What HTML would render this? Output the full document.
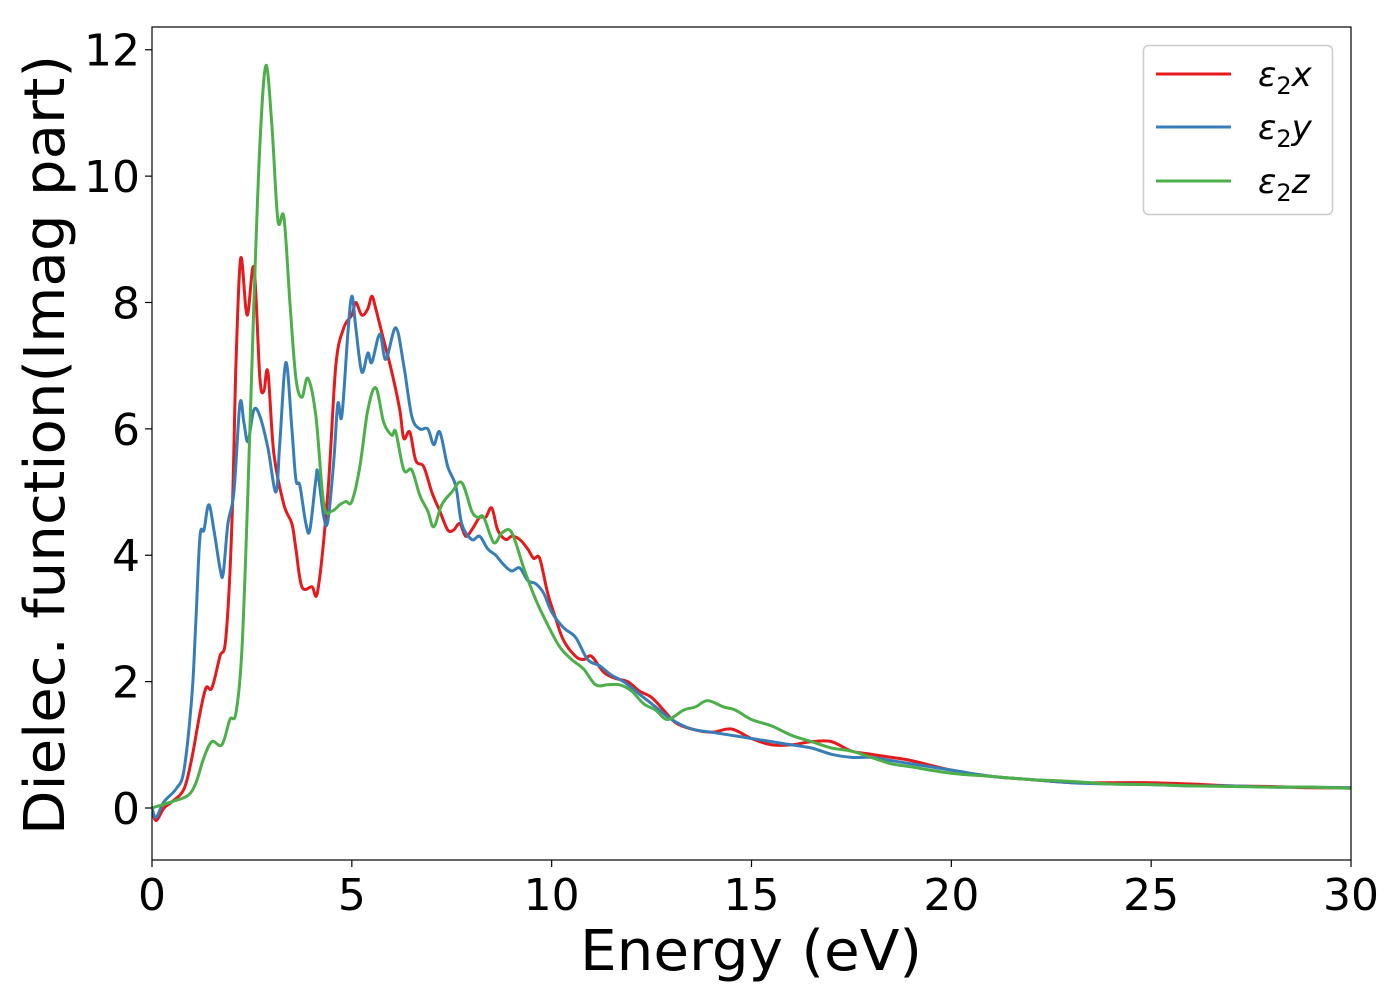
<!DOCTYPE html>
<html><head><meta charset="utf-8"><style>
html,body{margin:0;padding:0;background:#fff;}
svg{display:block;font-family:"DejaVu Sans","Liberation Sans",sans-serif;}
</style></head><body>
<svg id="chart" width="1400" height="1000" viewBox="0 0 1400 1000" xmlns="http://www.w3.org/2000/svg">
<rect width="1400" height="1000" fill="#fff"/>
<g id="series"></g>
<g id="axes"></g>
<g>
<rect x="1143.5" y="45.5" width="189" height="169" rx="5" fill="#fff" fill-opacity="0.8" stroke="#ccc" stroke-width="1.5"/>
<line x1="1156" x2="1231" y1="74" y2="74" stroke="#e41a1c" stroke-width="3"/>
<line x1="1156" x2="1231" y1="127" y2="127" stroke="#377eb8" stroke-width="3"/>
<line x1="1156" x2="1231" y1="181" y2="181" stroke="#4daf4a" stroke-width="3"/>
<text x="1258" y="86" font-size="34" font-style="italic">ε<tspan font-size="24" dy="8" font-style="normal">2</tspan><tspan dy="-8">x</tspan></text>
<text x="1258" y="139" font-size="34" font-style="italic">ε<tspan font-size="24" dy="8" font-style="normal">2</tspan><tspan dy="-8">y</tspan></text>
<text x="1258" y="193" font-size="34" font-style="italic">ε<tspan font-size="24" dy="8" font-style="normal">2</tspan><tspan dy="-8">z</tspan></text>
</g>
<text x="751" y="970" font-size="56" text-anchor="middle" textLength="342" lengthAdjust="spacingAndGlyphs">Energy (eV)</text>
<text transform="translate(64,445) rotate(-90)" font-size="56" text-anchor="middle" textLength="780" lengthAdjust="spacingAndGlyphs">Dielec. function(Imag part)</text>
</svg>
<script>
const xTicks=[0,5,10,15,20,25,30];
const yTicks=[0,2,4,6,8,10,12];
const xE=[0,0.1,0.3,0.5,0.8,1.0,1.2,1.35,1.5,1.7,1.85,2.0,2.1,2.22,2.38,2.55,2.7,2.8,2.9,3.05,3.3,3.5,3.6,3.75,4.0,4.15,4.4,4.6,4.8,5.0,5.1,5.25,5.4,5.5,5.6,5.8,6.0,6.2,6.3,6.45,6.6,6.8,7.0,7.2,7.4,7.55,7.7,7.85,8.0,8.2,8.35,8.5,8.65,8.85,9.0,9.2,9.4,9.55,9.7,9.9,10.1,10.3,10.6,10.8,11.0,11.3,11.6,11.9,12.2,12.5,12.8,13.1,13.5,14.0,14.5,15.0,15.5,16.0,16.5,17.0,17.5,18.0,18.5,19.0,20,21,22,23,24,25,26,27,28,29,30];
const xV=[0,-0.2,0,0.1,0.3,0.8,1.5,1.9,1.9,2.4,2.7,4.5,7.0,8.7,7.8,8.55,6.8,6.6,6.9,5.6,4.8,4.5,4.1,3.5,3.5,3.45,5.0,7.0,7.6,7.8,8.0,7.8,7.9,8.1,7.9,7.4,6.9,6.3,5.85,5.95,5.5,5.4,5.0,4.7,4.4,4.4,4.5,4.3,4.4,4.6,4.6,4.75,4.4,4.25,4.3,4.25,4.1,3.95,3.95,3.4,3.0,2.65,2.4,2.35,2.4,2.15,2.05,2.0,1.85,1.75,1.55,1.35,1.25,1.2,1.25,1.1,1.0,1.0,1.05,1.05,0.9,0.85,0.8,0.75,0.6,0.5,0.45,0.4,0.4,0.4,0.38,0.35,0.34,0.32,0.32];
const yE=[0,0.1,0.3,0.6,0.8,1.0,1.1,1.2,1.3,1.42,1.55,1.7,1.78,1.9,2.05,2.2,2.3,2.4,2.55,2.7,2.9,3.1,3.2,3.35,3.5,3.6,3.7,3.85,3.95,4.1,4.15,4.3,4.4,4.55,4.65,4.75,4.9,5.0,5.1,5.25,5.4,5.5,5.7,5.85,6.1,6.3,6.5,6.7,6.9,7.05,7.2,7.4,7.6,7.75,8.0,8.2,8.4,8.6,8.8,9.0,9.2,9.4,9.6,9.8,10.0,10.3,10.6,10.9,11.2,11.5,11.8,12.2,12.6,13.0,13.5,14.0,14.5,15,15.5,16,16.5,17,17.5,18,18.5,19,20,21,22,23,24,25,26,27,28,29,30];
const yV=[0,-0.15,0.1,0.3,0.6,1.8,3.0,4.3,4.4,4.8,4.4,3.8,3.7,4.5,5.0,6.4,6.1,5.8,6.3,6.2,5.7,5.0,5.8,7.05,6.0,5.2,5.1,4.5,4.4,5.2,5.3,4.6,4.55,5.5,6.4,6.2,7.5,8.1,7.6,6.9,7.2,7.05,7.5,7.1,7.6,7.0,6.2,6.0,6.0,5.75,5.95,5.4,5.1,4.5,4.25,4.3,4.1,4.0,3.85,3.75,3.8,3.6,3.55,3.4,3.1,2.85,2.7,2.35,2.25,2.1,2.0,1.8,1.6,1.4,1.25,1.2,1.15,1.1,1.05,1.0,0.95,0.85,0.8,0.8,0.75,0.7,0.6,0.5,0.45,0.4,0.38,0.37,0.35,0.35,0.33,0.33,0.32];
const zE=[0,0.5,0.9,1.1,1.3,1.5,1.75,1.95,2.1,2.25,2.4,2.55,2.7,2.85,3.0,3.15,3.3,3.45,3.6,3.75,3.9,4.1,4.3,4.5,4.7,4.85,5.0,5.2,5.4,5.6,5.8,6.0,6.1,6.3,6.5,6.7,6.9,7.05,7.25,7.5,7.75,8.0,8.15,8.3,8.55,8.75,8.95,9.1,9.3,9.6,9.9,10.2,10.5,10.8,11.1,11.4,11.7,12.0,12.3,12.6,12.9,13.3,13.6,13.9,14.3,14.6,15.0,15.5,16,16.5,17,17.5,18,18.5,19,20,21,22,23,24,25,26,27,28,29,30];
const zV=[0,0.1,0.2,0.4,0.8,1.05,1.0,1.4,1.5,2.5,5.0,8.0,10.5,11.75,10.8,9.3,9.35,8.0,6.8,6.5,6.8,6.2,4.8,4.7,4.8,4.85,4.85,5.4,6.3,6.65,6.1,5.9,5.95,5.35,5.35,4.95,4.7,4.45,4.8,5.0,5.15,4.7,4.6,4.6,4.2,4.35,4.4,4.2,3.8,3.3,2.9,2.55,2.35,2.2,1.95,1.95,1.95,1.85,1.65,1.55,1.4,1.55,1.6,1.7,1.6,1.55,1.4,1.3,1.15,1.05,0.95,0.9,0.8,0.7,0.65,0.55,0.5,0.45,0.42,0.38,0.37,0.35,0.34,0.33,0.33,0.31];

const L=152,R=1351,T=27,B=860,xMin=0,xMax=30,yMin=-0.823,yMax=12.36;
function sx(v){return L+(v-xMin)/(xMax-xMin)*(R-L);}
function sy(v){return B-(v-yMin)/(yMax-yMin)*(B-T);}
const NS='http://www.w3.org/2000/svg';
function pathFor(E,V){
  const p=E.map((e,i)=>[sx(e),sy(V[i])]);
  let d='M'+p[0][0].toFixed(1)+','+p[0][1].toFixed(1);
  for(let i=0;i<p.length-1;i++){
    const p0=p[Math.max(0,i-1)],p1=p[i],p2=p[i+1],p3=p[Math.min(p.length-1,i+2)];
    const c1=[p1[0]+(p2[0]-p0[0])/6,p1[1]+(p2[1]-p0[1])/6];
    const c2=[p2[0]-(p3[0]-p1[0])/6,p2[1]-(p3[1]-p1[1])/6];
    d+='C'+c1[0].toFixed(1)+','+c1[1].toFixed(1)+' '+c2[0].toFixed(1)+','+c2[1].toFixed(1)+' '+p2[0].toFixed(1)+','+p2[1].toFixed(1);
  }
  return d;
}
const sg=document.getElementById('series');
const defs=document.createElementNS(NS,'clipPath');
defs.setAttribute('id','clip');
const cr=document.createElementNS(NS,'rect');
cr.setAttribute('x',L);cr.setAttribute('y',T);cr.setAttribute('width',R-L);cr.setAttribute('height',B-T);
defs.appendChild(cr);sg.appendChild(defs);
const series=[[xE,xV,'#e41a1c','series-eps2-x'],[yE,yV,'#377eb8','series-eps2-y'],[zE,zV,'#4daf4a','series-eps2-z']];
series.forEach(s=>{
  const p=document.createElementNS(NS,'path');
  
  
  p.setAttribute('d',pathFor(s[0],s[1]));
  p.setAttribute('fill','none');p.setAttribute('stroke',s[2]);p.setAttribute('stroke-width','3');
  p.setAttribute('stroke-linejoin','round');p.setAttribute('clip-path','url(#clip)');
  sg.appendChild(p);
});
const ax=document.getElementById('axes');
const frame=document.createElementNS(NS,'rect');


frame.setAttribute('x',L);frame.setAttribute('y',T);frame.setAttribute('width',R-L);frame.setAttribute('height',B-T);
frame.setAttribute('fill','none');frame.setAttribute('stroke','#000');frame.setAttribute('stroke-width','1.2');
ax.appendChild(frame);
xTicks.forEach(t=>{
  const l=document.createElementNS(NS,'line');
  
  
  l.setAttribute('x1',sx(t));l.setAttribute('x2',sx(t));l.setAttribute('y1',B);l.setAttribute('y2',B+7);l.setAttribute('stroke','#000');l.setAttribute('stroke-width','1.2');
  ax.appendChild(l);
  const tx=document.createElementNS(NS,'text');
  
  
  tx.setAttribute('x',sx(t));tx.setAttribute('y',B+50);tx.setAttribute('font-size','44');tx.setAttribute('text-anchor','middle');
  tx.textContent=t;ax.appendChild(tx);
});
yTicks.forEach(t=>{
  const l=document.createElementNS(NS,'line');
  
  
  l.setAttribute('x1',L-7);l.setAttribute('x2',L);l.setAttribute('y1',sy(t));l.setAttribute('y2',sy(t));l.setAttribute('stroke','#000');l.setAttribute('stroke-width','1.2');
  ax.appendChild(l);
  const tx=document.createElementNS(NS,'text');
  
  
  tx.setAttribute('x',L-12);tx.setAttribute('y',sy(t)+16);tx.setAttribute('font-size','44');tx.setAttribute('text-anchor','end');
  tx.textContent=t;ax.appendChild(tx);
});
</script>
</body></html>
